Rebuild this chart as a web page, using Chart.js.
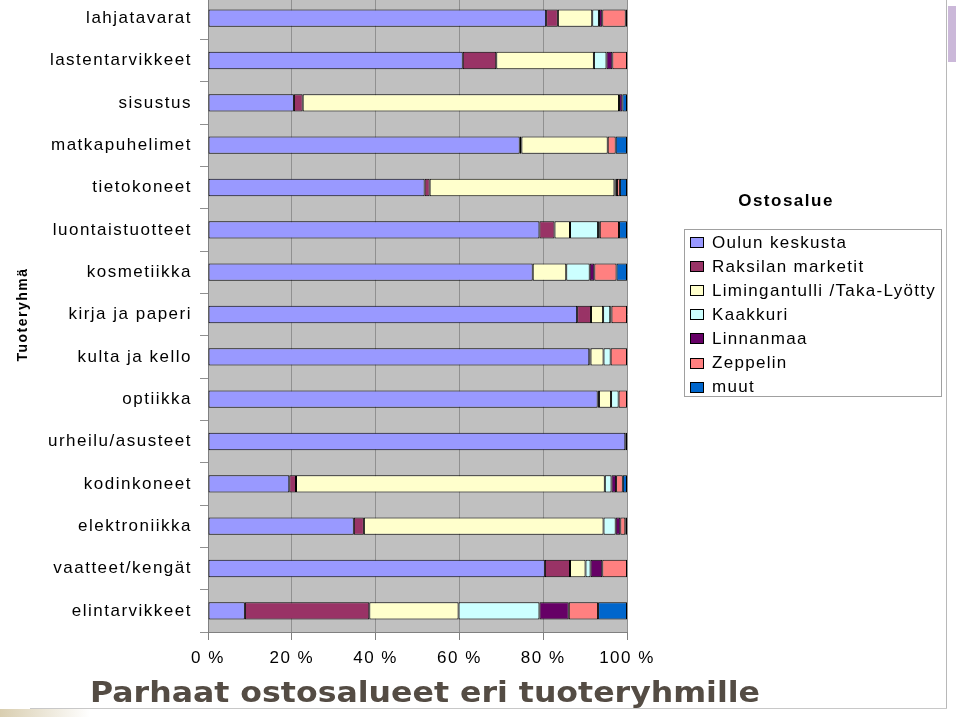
<!DOCTYPE html>
<html>
<head>
<meta charset="utf-8">
<script src="https://cdn.jsdelivr.net/npm/chart.js@4/dist/chart.umd.min.js"></script>
<style>
  body { margin: 0; background: #fff; width: 960px; height: 717px; overflow: hidden; position: relative; }
  #wrap { position: absolute; left: 0; top: -3px; width: 960px; height: 720px; }
  .vline { position: absolute; left: 946px; top: 0; width: 1px; height: 709px; background: #b8b8b8; }
  .hline { position: absolute; left: 30px; top: 708px; width: 917px; height: 1px; background: #c8c8c8; }
  .tab { position: absolute; left: 948px; top: 6px; width: 8px; height: 56px; background: #cbb8d9; }
  .fade { position: absolute; left: 0; top: 709px; width: 90px; height: 8px; background: linear-gradient(90deg, #d9ceb0, #fff); }
</style>
</head>
<body>
<div class="vline"></div>
<div class="hline"></div>
<div class="tab"></div>
<div class="fade"></div>
<div id="wrap"><canvas id="chart" width="960" height="720"></canvas></div>
<script>
const categories = ['lahjatavarat', 'lastentarvikkeet', 'sisustus', 'matkapuhelimet', 'tietokoneet',
    'luontaistuotteet', 'kosmetiikka', 'kirja ja paperi', 'kulta ja kello', 'optiikka',
    'urheilu/asusteet', 'kodinkoneet', 'elektroniikka', 'vaatteet/kengät', 'elintarvikkeet'];

const seriesNames = ['Oulun keskusta', 'Raksilan marketit', 'Limingantulli /Taka-Lyötty',
    'Kaakkuri', 'Linnanmaa', 'Zeppelin', 'muut'];
const seriesColors = ['#9999ff', '#993366', '#ffffcc', '#ccffff', '#660066', '#ff8080', '#0066cc'];

// percentages, same order as categories
const oulunKeskusta = [80.7, 60.8, 20.5, 74.4, 51.7, 79.1, 77.5, 88.1, 91.0, 93.0, 99.6, 19.4, 34.8, 80.4, 8.8];
const raksila       = [2.8, 8.0, 2.1, 0.4, 1.2, 3.6, 0, 3.3, 0.3, 0.3, 0, 1.6, 2.4, 6.0, 29.7];
const limingantulli = [8.2, 23.3, 75.5, 20.6, 44.1, 3.7, 8.0, 2.9, 3.1, 2.9, 0, 73.7, 57.2, 3.7, 21.3];
const kaakkuri      = [1.6, 3.0, 0, 0, 0.3, 6.7, 5.6, 1.7, 1.7, 1.8, 0, 1.6, 2.9, 1.2, 19.3];
const linnanmaa     = [0.8, 1.4, 0.8, 0, 0.3, 0.4, 1.1, 0.3, 0, 0, 0, 1.1, 1.1, 2.8, 7.0];
const zeppelin      = [5.6, 3.5, 0, 1.9, 0.7, 4.6, 5.3, 3.7, 3.9, 2.0, 0, 1.6, 1.2, 5.9, 7.0];
const muut          = [0.3, 0, 1.1, 2.7, 1.7, 1.9, 2.5, 0, 0, 0, 0.4, 1.0, 0.4, 0, 6.9];

const xTicks = [0, 20, 40, 60, 80, 100];

const seriesValues = [oulunKeskusta, raksila, limingantulli, kaakkuri, linnanmaa, zeppelin, muut];
const OFF = 3; // canvas sits 3px above the page top

const FONT = 'Liberation Sans, Arial, sans-serif';

const bgPlugin = {
    id: 'plotBg',
    beforeDraw(chart) {
        const { ctx, chartArea: a } = chart;
        ctx.letterSpacing = '1.5px';
        ctx.save();
        ctx.fillStyle = '#c0c0c0';
        ctx.fillRect(a.left, a.top, a.right - a.left, a.bottom - a.top);
        ctx.restore();
    },
    afterDraw(chart) {
        const ctx = chart.ctx;
        ctx.save();
        // legend
        ctx.letterSpacing = '1.5px';
        ctx.fillStyle = '#000';
        ctx.font = 'bold 17px ' + FONT;
        ctx.textAlign = 'center';
        ctx.textBaseline = 'middle';
        ctx.fillText('Ostosalue', 786, 201 + OFF);
        ctx.strokeStyle = '#a0a0a0';
        ctx.lineWidth = 1;
        ctx.strokeRect(684.5, 229.5 + OFF, 257, 167);
        ctx.font = '17px ' + FONT;
        ctx.textAlign = 'left';
        ctx.letterSpacing = '1.3px';
        chart.data.datasets.forEach((ds, i) => {
            const y = 242 + i * 24.1 + OFF;
            ctx.fillStyle = ds.backgroundColor;
            ctx.fillRect(690.5, Math.round(y - 5) + 0.5, 13, 10);
            ctx.strokeStyle = '#000';
            ctx.strokeRect(690.5, Math.round(y - 5) + 0.5, 13, 10);
            ctx.fillStyle = '#000';
            ctx.fillText(ds.label, 712, y + 1);
        });
        // bottom title
        ctx.letterSpacing = '0px';
        const title = 'Parhaat ostosalueet eri tuoteryhmille';
        ctx.font = 'bold 28px "DejaVu Sans", Verdana, sans-serif';
        ctx.fillStyle = '#544c44';
        ctx.textBaseline = 'alphabetic';
        const w = ctx.measureText(title).width;
        ctx.translate(90, 702 + OFF);
        ctx.scale(670 / w, 1);
        ctx.fillText(title, 0, 0);
        ctx.restore();
    }
};

const ctx = document.getElementById('chart').getContext('2d');
new Chart(ctx, {
    type: 'bar',
    data: {
        labels: categories,
        datasets: seriesNames.map((name, i) => ({
            label: name,
            data: seriesValues[i],
            backgroundColor: seriesColors[i],
            borderColor: '#000',
            borderWidth: 1,
            borderSkipped: false,
            categoryPercentage: 1,
            barPercentage: 0.41
        }))
    },
    options: {
        indexAxis: 'y',
        responsive: false,
        animation: false,
        devicePixelRatio: 1,
        layout: { padding: { left: 0, right: 333, top: 0, bottom: 0 } },
        plugins: { legend: { display: false }, tooltip: { enabled: false } },
        scales: {
            x: {
                stacked: true,
                min: 0,
                max: 100,
                afterFit(scale) {
                    scale.height = 85;
                    scale.paddingLeft = 0;
                    scale.paddingRight = 0;
                },
                afterBuildTicks(scale) { scale.ticks = xTicks.map(v => ({ value: v })); },
                ticks: {
                    color: '#000',
                    padding: 8,
                    font: { family: FONT, size: 17 },
                    callback: v => v + ' %'
                },
                grid: { color: '#909090', tickLength: 8, tickColor: '#808080' },
                border: { color: '#808080' }
            },
            y: {
                stacked: true,
                afterFit(scale) {
                    scale.width = 208;
                    scale.paddingTop = 0;
                    scale.paddingBottom = 0;
                },
                ticks: {
                    color: '#000',
                    padding: 8,
                    font: { family: FONT, size: 17 }
                },
                grid: { drawOnChartArea: false, tickLength: 8, color: '#909090' },
                border: { color: '#808080' },
                title: {
                    display: true,
                    text: 'Tuoteryhmä',
                    color: '#000',
                    font: { family: FONT, size: 14, weight: 'bold' },
                    padding: { top: 15, bottom: 0 }
                }
            }
        }
    },
    plugins: [bgPlugin]
});
</script>
</body>
</html>
